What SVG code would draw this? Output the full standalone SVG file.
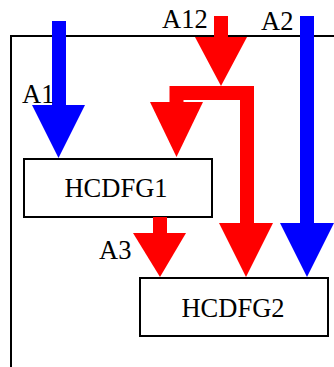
<svg xmlns="http://www.w3.org/2000/svg" width="334" height="367" viewBox="0 0 334 367">
<style>
.frame{fill:none;stroke:#000;stroke-width:2}
.box{fill:#fff;stroke:#000;stroke-width:2}
.lbl{font-family:"Liberation Serif","Times New Roman",serif;font-size:26.5px;fill:#000}
.red{fill:#ff0000}
.blue{fill:#0000ff}
.redline{fill:none;stroke:#ff0000;stroke-width:14;stroke-linejoin:miter}
</style>
<rect width="334" height="367" fill="#fff"/>
<g id="frame">
<path class="frame" d="M11,367 V36 H334"/>
</g>
<g id="HCDFG1">
<rect class="box" x="24" y="159" width="188" height="58"/>
<text class="lbl" x="116" y="197" text-anchor="middle">HCDFG1</text>
</g>
<g id="HCDFG2">
<rect class="box" x="140" y="278" width="188" height="58"/>
<text class="lbl" x="233" y="317" text-anchor="middle">HCDFG2</text>
</g>
<g id="connectors">
<g id="A1">
<rect class="blue" x="52" y="21" width="14" height="85"/>
<polygon class="blue" points="32,105 85,105 58.5,158"/>
<text class="lbl" x="22" y="103">A1</text>
</g>
<g id="A12">
<rect class="red" x="214" y="16" width="14" height="22"/>
<polygon class="red" points="195,37 247,37 221,86"/>
<polyline class="redline" points="176.5,103 176.5,93 247,93 247,224"/>
<polygon class="red" points="150,102 203,102 176.5,157"/>
<polygon class="red" points="219,223 273,223 246,277"/>
<text class="lbl" x="162" y="28">A12</text>
</g>
<g id="A2">
<rect class="blue" x="300" y="16" width="14" height="208"/>
<polygon class="blue" points="280,223 334,223 307,277"/>
<text class="lbl" x="261" y="30">A2</text>
</g>
<g id="A3">
<rect class="red" x="153" y="217" width="14" height="17"/>
<polygon class="red" points="133,233 186,233 160,277"/>
<text class="lbl" x="99" y="259">A3</text>
</g>
</g>
</svg>
